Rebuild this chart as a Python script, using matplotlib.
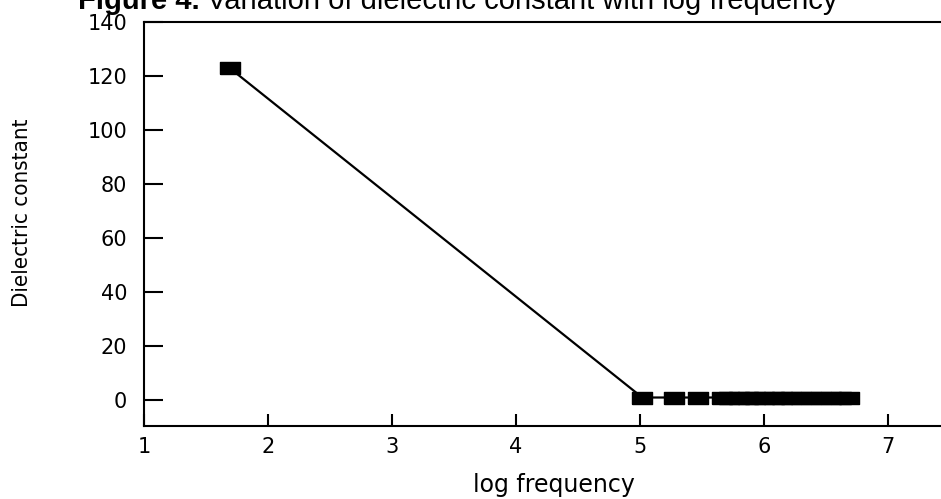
import matplotlib
matplotlib.use("Agg")
from matplotlib import pyplot as plt

# log frequency vs dielectric constant
log_freq = [1.69, 5.02, 5.28, 5.47, 5.66, 5.72, 5.8, 5.87, 5.93, 6.0,
            6.08, 6.15, 6.22, 6.3, 6.38, 6.46, 6.54, 6.62, 6.69]
dielectric = [123, 1, 1, 1, 1, 1, 1, 1, 1, 1,
              1, 1, 1, 1, 1, 1, 1, 1, 1]
x_ticks = [1, 2, 3, 4, 5, 6, 7]
y_ticks = [0, 20, 40, 60, 80, 100, 120, 140]

fig = plt.figure(figsize=(9.41, 4.99), dpi=100)
ax = fig.add_axes([0.153, 0.146, 0.847, 0.81])

# wide flat square like the scanned marker
rect = [(-1.5, -1), (1.5, -1), (1.5, 1), (-1.5, 1), (-1.5, -1)]
ax.plot(log_freq, dielectric, color="black", linewidth=1.6,
        marker=rect, markersize=14, markerfacecolor="black",
        markeredgecolor="black")

ax.set_xlim(1, 7.43)
ax.set_ylim(-9.6, 140)
ax.set_xticks(x_ticks)
ax.set_yticks(y_ticks)
ax.tick_params(axis="y", direction="in", length=14, width=1.5, pad=12,
               labelsize=15)
ax.tick_params(axis="x", direction="in", length=9, width=1.5, pad=8,
               labelsize=15)
ax.spines["right"].set_visible(False)
for s in ["left", "bottom", "top"]:
    ax.spines[s].set_linewidth(1.5)

ax.set_xlabel("log frequency", fontsize=17)
ax.xaxis.set_label_coords(0.514, -0.163)
ax.xaxis.label.set_va("baseline")
ax.set_ylabel("Dielectric constant", fontsize=16, fontstretch="condensed")
ax.yaxis.set_label_coords(-0.153, 0.527)
ax.yaxis.label.set_va("center")

# title sits partly above the top edge, as in the scan
t1 = fig.text(78 / 941, 490 / 499, "Figure 4.", fontsize=21,
              fontweight="bold", family="Liberation Sans", va="baseline")
fig.canvas.draw()
bb = t1.get_window_extent()
fig.text((bb.x1 + 7) / 941, 490 / 499,
         "Variation of dielectric constant with log frequency",
         fontsize=21, family="Liberation Sans", va="baseline")

fig.savefig("out.png", dpi=100)
